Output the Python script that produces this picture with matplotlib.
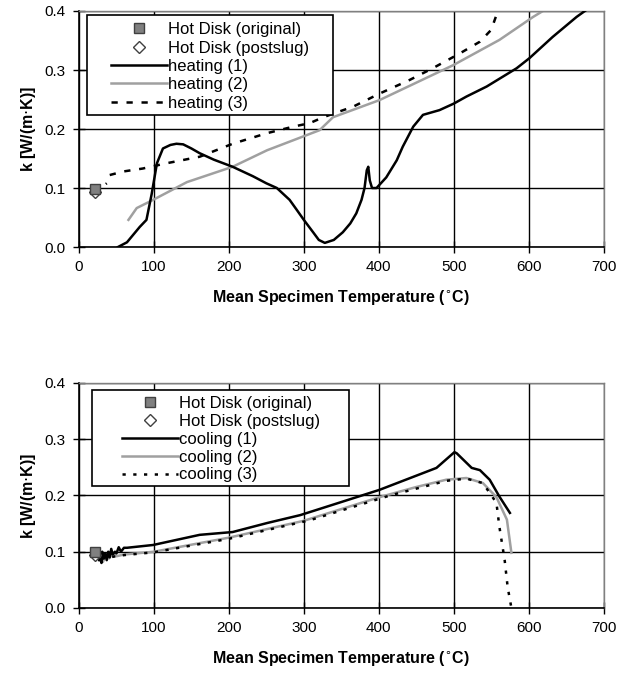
import numpy as np
import matplotlib
matplotlib.use("Agg")
import matplotlib.pyplot as plt
from matplotlib.patches import Rectangle

plt.rcParams['font.family'] = ['Liberation Sans', 'DejaVu Sans']

# --- hot disk reference points ---
hd_orig_T = [22]
hd_orig_k_heat = [0.098]
hd_post_k_heat = [0.094]
hd_orig_k_cool = [0.100]
hd_post_k_cool = [0.095]

# --- heating runs ---
heat1_T = [52, 64, 81, 90, 97, 104, 112, 122, 130, 139, 150, 161, 180, 205, 232, 250,
           264, 281, 290, 300, 313, 320, 328, 340, 352, 362, 370, 377, 381, 384, 386,
           388, 391, 397, 410, 424, 432, 446, 459, 470, 481, 500, 517, 544, 584, 601,
           632, 664, 686]
heat1_k = [0.0, 0.008, 0.034, 0.046, 0.09, 0.142, 0.167, 0.173, 0.175, 0.174, 0.167,
           0.159, 0.148, 0.136, 0.12, 0.108, 0.1, 0.08, 0.064, 0.046, 0.024, 0.012,
           0.007, 0.012, 0.025, 0.04, 0.057, 0.08, 0.1, 0.13, 0.136, 0.113, 0.1, 0.1,
           0.118, 0.147, 0.17, 0.204, 0.224, 0.228, 0.232, 0.243, 0.255, 0.272, 0.303,
           0.32, 0.356, 0.39, 0.41]

heat2_T = [66, 77, 99, 144, 205, 251, 321, 339, 401, 499, 561, 606, 632]
heat2_k = [0.046, 0.066, 0.08, 0.11, 0.136, 0.164, 0.198, 0.22, 0.249, 0.308, 0.351,
           0.39, 0.41]

# short start, a jump, then the dashed run
heat3_T = [21, 25, 28, 33, 37, 38, 41, 59, 85, 117, 161, 205, 251, 286, 308, 326, 366,
           401, 441, 472, 508, 535, 550, 557, 565]
heat3_k = [0.09, 0.095, 0.1, 0.104, 0.108, np.nan, 0.122, 0.128, 0.133, 0.142, 0.153,
           0.175, 0.193, 0.204, 0.21, 0.22, 0.238, 0.26, 0.283, 0.303, 0.328, 0.348,
           0.368, 0.393, 0.41]

# --- cooling runs ---
cool1_T = [27, 28, 30, 31, 33, 35, 37, 39, 41, 43, 45, 48, 50, 53, 56, 60, 64, 99,
           161, 205, 251, 295, 321, 401, 477, 501, 504, 524, 535, 548, 561, 575]
cool1_k = [0.085, 0.095, 0.08, 0.1, 0.088, 0.097, 0.085, 0.1, 0.09, 0.105, 0.095, 0.1,
           0.097, 0.108, 0.1, 0.107, 0.107, 0.112, 0.13, 0.135, 0.151, 0.165, 0.176,
           0.21, 0.249, 0.277, 0.275, 0.249, 0.245, 0.228, 0.198, 0.169]

cool2_T = [28, 32, 36, 40, 45, 50, 60, 100, 200, 300, 401, 450, 490, 517, 539, 557,
           571, 577]
cool2_k = [0.09, 0.082, 0.095, 0.088, 0.097, 0.092, 0.095, 0.1, 0.125, 0.155, 0.197,
           0.215, 0.228, 0.231, 0.222, 0.197, 0.157, 0.098]

cool3_T = [30, 40, 50, 60, 100, 200, 308, 415, 490, 517, 539, 557, 561, 568, 572, 577]
cool3_k = [0.088, 0.09, 0.092, 0.094, 0.099, 0.123, 0.156, 0.2, 0.226, 0.23, 0.222,
           0.187, 0.144, 0.085, 0.037, 0.0]

x_ticks = [0, 100, 200, 300, 400, 500, 600, 700]
y_ticks = [0.0, 0.1, 0.2, 0.3, 0.4]

GRAY = '#a0a0a0'


def style_axes(ax):
    ax.set_xlim(0, 700)
    ax.set_ylim(0, 0.4)
    ax.set_xticks(x_ticks)
    ax.set_yticks(y_ticks)
    ax.set_yticklabels([f"{v:.1f}" for v in y_ticks])
    ax.grid(True, color='black', linewidth=1.0)
    ax.set_axisbelow(True)
    ax.tick_params(direction='inout', length=9, width=1.0, labelsize=11, pad=5)
    for s in ['left', 'bottom']:
        ax.spines[s].set_linewidth(1.2)
    for s in ['top', 'right']:
        ax.spines[s].set_color('#808080')
        ax.spines[s].set_linewidth(1.0)
    ax.set_xlabel('Mean Specimen Temperature ($^{\\circ}$C)', fontsize=11.5,
                  fontweight='bold', labelpad=10)
    ax.set_ylabel('k [W/(m$\\cdot$K)]', fontsize=11.5, fontweight='bold', labelpad=5)


fig = plt.figure(figsize=(6.29, 6.79), dpi=100)
ax1 = fig.add_axes([0.1256, 0.6362, 0.834, 0.3476])
ax2 = fig.add_axes([0.1256, 0.1046, 0.834, 0.3314])

for ax, kind, T1, k1, T2, k2, T3, k3, ko, kp, dash in [
        (ax1, 'heating', heat1_T, heat1_k, heat2_T, heat2_k, heat3_T, heat3_k,
         hd_orig_k_heat, hd_post_k_heat, (2.5, 3.5)),
        (ax2, 'cooling', cool1_T, cool1_k, cool2_T, cool2_k, cool3_T, cool3_k,
         hd_orig_k_cool, hd_post_k_cool, (1.3, 3))]:
    ax.plot(hd_orig_T, ko, ls='none', marker='s', ms=7, mfc='#808080', mec='#404040',
            mew=1.0, label='Hot Disk (original)', zorder=5)
    ax.plot(hd_orig_T, kp, ls='none', marker='D', ms=6, mfc='white', mec='#404040',
            mew=1.0, label='Hot Disk (postslug)', zorder=4)
    ax.plot(T1, k1, color='black', lw=1.8, label=f'{kind} (1)', zorder=3)
    ax.plot(T2, k2, color=GRAY, lw=1.8, label=f'{kind} (2)', zorder=2)
    ax.plot(T3, k3, color='black', lw=1.8, dashes=dash, label=f'{kind} (3)', zorder=3)
    style_axes(ax)

# legend frames drawn as plain rectangles so the left padding can match
frames = [(ax1, 0.0152, 0.559, 0.4686, 0.424, (0.061, 0.952), 0.2),
          (ax2, 0.0248, 0.542, 0.4892, 0.427, (0.082, 0.942), 0.17)]
for ax, x0, y0, w, h, anchor, spacing in frames:
    ax.add_patch(Rectangle((x0, y0), w, h, transform=ax.transAxes, facecolor='white',
                           edgecolor='black', lw=1.2, zorder=6, clip_on=False))
    leg = ax.legend(loc='upper left', bbox_to_anchor=anchor, fontsize=12,
                    handlelength=3.35, handletextpad=0.05, labelspacing=spacing,
                    borderpad=0, borderaxespad=0, frameon=False)
    leg.set_zorder(7)

fig.savefig('out.png', dpi=100)
